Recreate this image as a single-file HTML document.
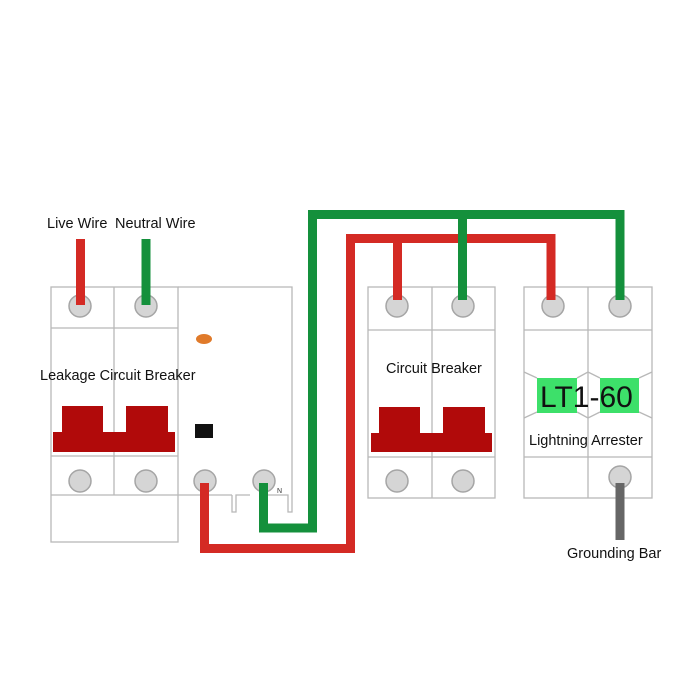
<!DOCTYPE html>
<html><head><style>body{margin:0;background:#fff}svg{display:block}</style></head><body>
<svg width="700" height="700" viewBox="0 0 700 700" xmlns="http://www.w3.org/2000/svg" font-family="Liberation Sans, sans-serif">
<rect width="700" height="700" fill="#fff"/>
<g fill="none" stroke="#b8b8b8" stroke-width="1.3">
<rect x="51" y="287" width="127" height="255"/>
<line x1="114" y1="287" x2="114" y2="495"/>
<line x1="51" y1="328" x2="178" y2="328"/>
<line x1="51" y1="456" x2="178" y2="456"/>
<line x1="51" y1="495" x2="232" y2="495"/>
<path d="M178 287 H292 V512 H288 V495 H264 M250 495 H236 V512 H232 V495"/>
<rect x="368" y="287" width="127" height="211"/>
<line x1="432" y1="287" x2="432" y2="498"/>
<line x1="368" y1="330" x2="495" y2="330"/>
<line x1="368" y1="457" x2="495" y2="457"/>
<rect x="524" y="287" width="128" height="211"/>
<line x1="588" y1="287" x2="588" y2="498"/>
<line x1="524" y1="330" x2="652" y2="330"/>
<line x1="524" y1="457" x2="652" y2="457"/>
<path d="M524 372 L537 378 M524 418 L537 412 M577 378 L588 372 L600 378 M577 412 L588 418 L600 412 M639 378 L652 372 M639 412 L652 418"/>
</g>
<g fill="#d5d5d5" stroke="#a5a5a5" stroke-width="1.5">
<circle cx="80" cy="306" r="11"/><circle cx="146" cy="306" r="11"/>
<circle cx="80" cy="481" r="11"/><circle cx="146" cy="481" r="11"/>
<circle cx="205" cy="481" r="11"/><circle cx="264" cy="481" r="11"/>
<circle cx="397" cy="306" r="11"/><circle cx="463" cy="306" r="11"/>
<circle cx="397" cy="481" r="11"/><circle cx="463" cy="481" r="11"/>
<circle cx="553" cy="306" r="11"/><circle cx="620" cy="306" r="11"/>
<circle cx="620" cy="477" r="11"/>
</g>
<g fill="none" stroke-linejoin="miter" stroke-width="9">
<path d="M80.5 239 V305" stroke="#d42a24"/>
<path d="M146 239 V305" stroke="#14903c"/>
<path d="M204.5 483 V548.5 H350.5 V238.5 H551 V300 M397.5 238.5 V300" stroke="#d42a24"/>
<path d="M263.5 483 V528 H312.5 V214.5 H620 V300 M462.5 214.5 V300" stroke="#14903c"/>
<path d="M620 483 V540" stroke="#666"/>
</g>
<g fill="#b10a0a">
<path d="M53 432 H62 V406 H103 V432 H126 V406 H168 V432 H175 V452 H53 Z"/>
<path d="M371 433 H379 V407 H420 V433 H443 V407 H485 V433 H492 V452 H371 Z"/>
</g>
<ellipse cx="204" cy="339" rx="8" ry="5" fill="#e07a2a"/>
<rect x="195" y="424" width="18" height="14" fill="#111"/>
<rect x="537" y="378" width="40" height="35" fill="#3de06a"/>
<rect x="600" y="378" width="39" height="35" fill="#3de06a"/>
<text x="540" y="407" font-size="30" fill="#111">LT1-60</text>
<g font-size="14.5" fill="#111">
<text x="47" y="228">Live Wire</text>
<text x="115" y="228">Neutral Wire</text>
<text x="40" y="380">Leakage Circuit Breaker</text>
<text x="386" y="373">Circuit Breaker</text>
<text x="529" y="445">Lightning Arrester</text>
<text x="567" y="558">Grounding Bar</text>
</g>
<text x="277" y="493" font-size="7" fill="#333">N</text>
</svg>
</body></html>
